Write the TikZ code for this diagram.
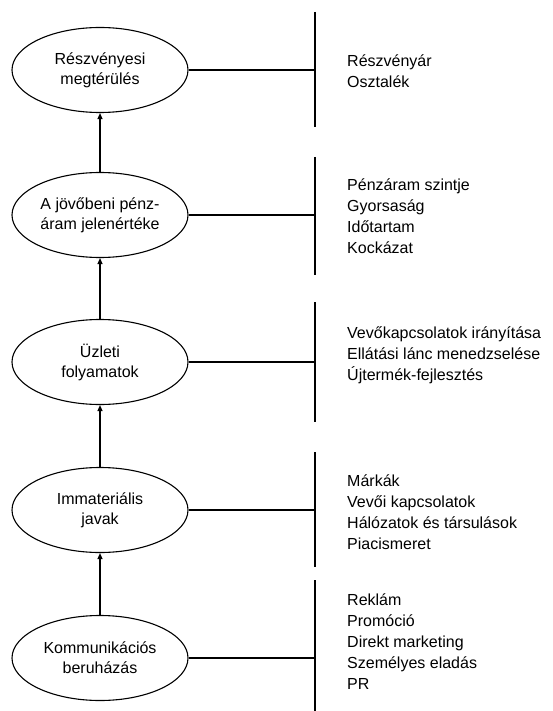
\documentclass[tikz,border=0pt]{standalone}
\usepackage{fontspec}
\setmainfont{Liberation Sans}
\usetikzlibrary{shapes.geometric,arrows.meta}
\begin{document}
\begin{tikzpicture}[x=1pt,y=-1pt,
  stage/.style={ellipse,draw,line width=1.1pt,minimum width=176pt,minimum height=85pt,
    inner sep=0pt,align=center,font=\fontsize{16}{20}\selectfont},
  items/.style={anchor=west,align=left,inner sep=0pt,font=\fontsize{16}{21}\selectfont},
  link/.style={line width=1.1pt},
  up/.style={line width=1.1pt,-{Triangle[length=6pt,width=5pt]}}]
\useasboundingbox (0,0) rectangle (552,711);

% value chain stages
\node[stage] (e1) at (100,70)  {Részvényesi\\megtérülés};
\node[stage] (e2) at (100,215) {A jövőbeni pénz-\\áram jelenértéke};
\node[stage] (e3) at (100,362) {Üzleti\\folyamatok};
\node[stage] (e4) at (100,510) {Immateriális\\javak};
\node[stage] (e5) at (100,658) {Kommunikációs\\beruházás};

% upward flow
\draw[up] (e2.north) -- (e1.south);
\draw[up] (e3.north) -- (e2.south);
\draw[up] (e4.north) -- (e3.south);
\draw[up] (e5.north) -- (e4.south);

% brackets on the right
\coordinate (j1) at (315,70);  \coordinate (t1) at (315,12);  \coordinate (u1) at (315,127);
\coordinate (j2) at (315,215); \coordinate (t2) at (315,157); \coordinate (u2) at (315,275);
\coordinate (j3) at (315,362); \coordinate (t3) at (315,302); \coordinate (u3) at (315,422);
\coordinate (j4) at (315,510); \coordinate (t4) at (315,452); \coordinate (u4) at (315,567);
\coordinate (j5) at (315,658); \coordinate (t5) at (315,580); \coordinate (u5) at (315,711);

\foreach \i in {1,...,5}{
  \draw[link] (e\i.east) -- (j\i);
  \draw[link] (t\i) -- (u\i);
}

% drivers of each stage
\node[items] (l1) at (347,71)  {Részvényár\\Osztalék};
\node[items] (l2) at (347,216) {Pénzáram szintje\\Gyorsaság\\Időtartam\\Kockázat};
\node[items] (l3) at (347,355) {Vevőkapcsolatok irányítása\\Ellátási lánc menedzselése\\Újtermék-fejlesztés};
\node[items] (l4) at (347,512) {Márkák\\Vevői kapcsolatok\\Hálózatok és társulások\\Piacismeret};
\node[items] (l5) at (347,642) {Reklám\\Promóció\\Direkt marketing\\Személyes eladás\\PR};
\end{tikzpicture}
\end{document}
